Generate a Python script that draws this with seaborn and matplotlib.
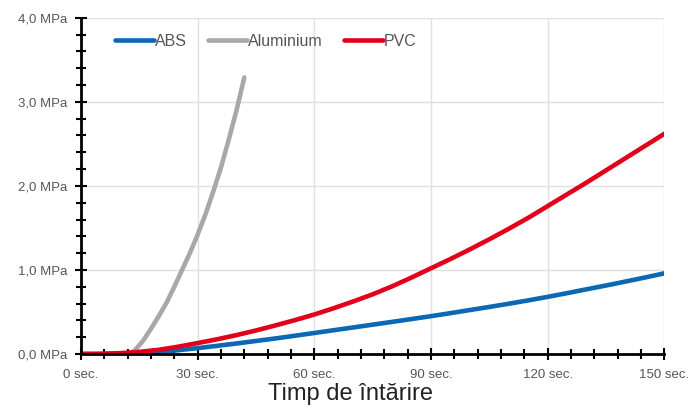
import pandas as pd
import seaborn as sns
import matplotlib
matplotlib.use('Agg')
import matplotlib.pyplot as plt
import matplotlib.ticker as ticker

# Values (time in sec, strength in MPa)
abs_t = [0, 5, 10, 15, 20, 25, 30, 35, 40, 45, 50, 55, 60, 65, 70, 75, 80, 85, 90, 95,
         100, 105, 110, 115, 120, 125, 130, 135, 140, 145, 150]
abs_v = [0.0, 0.0, 0.005, 0.01, 0.025, 0.045, 0.07, 0.097, 0.125, 0.155, 0.185, 0.217,
         0.25, 0.283, 0.316, 0.349, 0.382, 0.416, 0.45, 0.486, 0.523, 0.56, 0.598, 0.638,
         0.68, 0.724, 0.77, 0.815, 0.862, 0.91, 0.96]

alu_t = [12.5, 14, 16, 18, 20, 22, 24, 26, 28, 30, 32, 34, 36, 38, 40, 42]
alu_v = [0.0, 0.05, 0.16, 0.30, 0.45, 0.61, 0.80, 1.0, 1.20, 1.42, 1.66, 1.93, 2.22,
         2.55, 2.9, 3.29]

pvc_t = [0, 5, 10, 15, 20, 25, 30, 35, 40, 45, 50, 55, 60, 65, 70, 75, 80, 85, 90, 95,
         100, 105, 110, 115, 120, 125, 130, 135, 140, 145, 150]
pvc_v = [0.0, 0.002, 0.01, 0.025, 0.05, 0.087, 0.13, 0.175, 0.225, 0.28, 0.34, 0.403,
         0.47, 0.545, 0.625, 0.71, 0.805, 0.91, 1.02, 1.13, 1.245, 1.365, 1.49, 1.62,
         1.76, 1.9, 2.04, 2.185, 2.33, 2.475, 2.62]

materials = ['ABS', 'Aluminium', 'PVC']
colors = ['#0a68b4', '#a8a8a8', '#e2001a']

df = pd.concat([
    pd.DataFrame({'t': abs_t, 'v': abs_v, 'Material': 'ABS'}),
    pd.DataFrame({'t': alu_t, 'v': alu_v, 'Material': 'Aluminium'}),
    pd.DataFrame({'t': pvc_t, 'v': pvc_v, 'Material': 'PVC'}),
])

sns.set_style('white')
plt.rcParams['font.family'] = ['Liberation Sans', 'DejaVu Sans']

fig = plt.figure(figsize=(6.92, 4.15), dpi=100)
ax = fig.add_axes([0.117, 0.147, 0.843, 0.81])

sns.lineplot(data=df, x='t', y='v', hue='Material', hue_order=materials,
             palette=colors, linewidth=3.3, sort=True, estimator=None, ax=ax,
             solid_capstyle='round', solid_joinstyle='round')

ax.set_xlim(0, 150)
ax.set_ylim(0, 4)
ax.xaxis.set_major_locator(ticker.MultipleLocator(30))
ax.xaxis.set_minor_locator(ticker.MultipleLocator(6))
ax.yaxis.set_major_locator(ticker.MultipleLocator(1))
ax.yaxis.set_minor_locator(ticker.MultipleLocator(0.2))
ax.xaxis.set_major_formatter(ticker.FuncFormatter(lambda x, p: '{:.0f} sec.'.format(x)))
ax.yaxis.set_major_formatter(ticker.FuncFormatter(lambda y, p: '{:.1f} MPa'.format(y).replace('.', ',')))

ax.grid(True, which='major', color='#e0e0e0', linewidth=1)
ax.set_axisbelow(True)

for side in ['top', 'right']:
    ax.spines[side].set_visible(False)
for side in ['left', 'bottom']:
    ax.spines[side].set_color('black')
    ax.spines[side].set_linewidth(2)

ax.tick_params(which='both', bottom=True, left=True, direction='inout', color='black',
               width=1.5, labelsize=9.5, labelcolor='#555555')
ax.tick_params(which='major', length=8)
ax.tick_params(which='minor', length=7)
ax.tick_params(axis='x', pad=7)
ax.tick_params(axis='y', pad=6)

ax.set_xlabel('')
ax.set_ylabel('')
fig.text(0.507, 0.035, 'Timp de întărire', fontsize=17, color='#222222',
         ha='center', va='baseline')

handles, labels = ax.get_legend_handles_labels()
ax.legend(handles, labels, loc='upper left', bbox_to_anchor=(0.033, 0.995), ncol=3,
          frameon=False, fontsize=11.5, handlelength=2.45, handletextpad=0.05,
          columnspacing=1.35, labelcolor='#555555')

plt.savefig('out.png', dpi=100)
